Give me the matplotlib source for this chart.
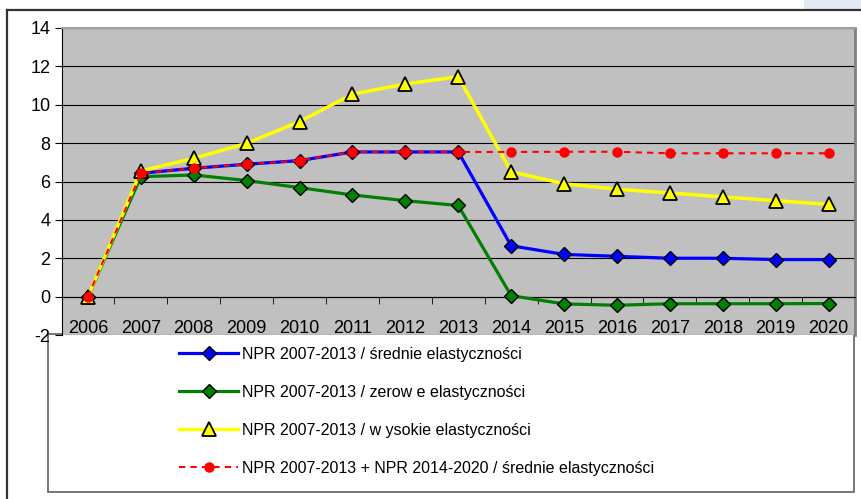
import matplotlib
matplotlib.use("Agg")
import matplotlib.pyplot as plt
from matplotlib.lines import Line2D
from matplotlib.patches import Rectangle

plt.rcParams['font.family'] = ['Liberation Sans', 'DejaVu Sans']
plt.rcParams['axes.unicode_minus'] = False

# ── dane ──
years = ["2006", "2007", "2008", "2009", "2010", "2011", "2012", "2013",
         "2014", "2015", "2016", "2017", "2018", "2019", "2020"]
srednie = [0, 6.43, 6.69, 6.9, 7.09, 7.54, 7.54, 7.54, 2.65, 2.2, 2.1, 2.0, 2.0, 1.93, 1.93]
zerowe = [0, 6.25, 6.34, 6.05, 5.68, 5.3, 5.0, 4.75, 0.05, -0.38, -0.45, -0.37, -0.37, -0.37, -0.36]
wysokie = [0, 6.55, 7.21, 7.99, 9.12, 10.55, 11.08, 11.46, 6.51, 5.88, 5.6, 5.4, 5.2, 5.0, 4.81]
npr_razem = [0, 6.43, 6.69, 6.9, 7.09, 7.54, 7.54, 7.54, 7.54, 7.55, 7.55, 7.47, 7.47, 7.47, 7.47]

labels = ["NPR 2007-2013 / średnie elastyczności",
          "NPR 2007-2013 / zerow e elastyczności",
          "NPR 2007-2013 / w ysokie elastyczności",
          "NPR 2007-2013 + NPR 2014-2020 / średnie elastyczności"]

W, H = 861, 499
fig = plt.figure(figsize=(W / 100, H / 100), dpi=100)

# obszar wykresu (px: x 61.5..855, y 28..335)
ax = fig.add_axes([61.5 / W, 1 - 335 / H, (855 - 61.5) / W, (335 - 28) / H])
ax.set_facecolor("#C0C0C0")

x = list(range(len(years)))
l1, = ax.plot(x, srednie, color="#0000FF", lw=2.3, marker="D", ms=7,
              mfc="#0000FF", mec="black", mew=1.0, zorder=3)
l2, = ax.plot(x, zerowe, color="#008000", lw=2.3, marker="D", ms=7,
              mfc="#008000", mec="black", mew=1.0, zorder=3)
l3, = ax.plot(x, wysokie, color="#FFFF00", lw=2.5, marker="^", ms=9.5,
              mfc="#FFFF00", mec="black", mew=1.3, zorder=3)
l4, = ax.plot(x, npr_razem, color="#FF0000", lw=1.5, ls=(0, (3, 2.5)),
              marker="o", ms=6.5, mfc="#FF0000", mec="#FF0000", zorder=4)

ax.set_xlim(-0.5, len(years) - 0.5)
ax.set_ylim(-2, 14)
ax.set_yticks(range(-2, 15, 2))
ax.yaxis.grid(True, color="black", lw=0.8)
ax.set_axisbelow(True)

ax.spines["bottom"].set_position(("data", 0))
ax.spines["bottom"].set_color("black")
ax.spines["left"].set_color("black")
ax.spines["right"].set_color("#808080")
ax.spines["right"].set_linewidth(2)
ax.spines["top"].set_color("#A0A0A0")
ax.spines["top"].set_linewidth(1.5)

ax.set_xticks(x)
ax.set_xticklabels(years)
ax.set_xticks([i - 0.5 for i in range(len(years) + 1)], minor=True)
ax.tick_params(axis="x", which="major", length=0, pad=17, labelsize=13)
ax.tick_params(axis="x", which="minor", length=5, direction="out", color="black")
ax.tick_params(axis="y", length=5, direction="out", labelsize=13, pad=3)

# ramka legendy (pod osiami, żeby "-2" było widoczne)
fig.patches.append(Rectangle((48 / W, 1 - 492 / H), (854 - 48) / W, (492 - 334) / H,
                             transform=fig.transFigure, facecolor="white",
                             edgecolor="#606060", lw=1.2, zorder=-1))

handles = [l1, l2, l3, l4]
leg = fig.legend(handles, labels, loc="upper left",
                 bbox_to_anchor=(179 / W, 1 - 347 / H), frameon=False,
                 fontsize=11.5, handlelength=3.7, handletextpad=0.25,
                 labelspacing=1.44, borderpad=0, borderaxespad=0)
leg.set_zorder(6)

# zewnętrzna ramka
fig.add_artist(Line2D([7 / W, 1], [1 - 10 / H, 1 - 10 / H], transform=fig.transFigure,
                      color="#333333", lw=1.6))
fig.add_artist(Line2D([7 / W, 7 / W], [0, 1 - 10 / H], transform=fig.transFigure,
                      color="#333333", lw=1.6))
fig.patches.append(Rectangle((804 / W, 1 - 9 / H), 57 / W, 9 / H,
                             transform=fig.transFigure, facecolor="#E2EAF6",
                             edgecolor="none"))

fig.savefig("out.png", dpi=100)
